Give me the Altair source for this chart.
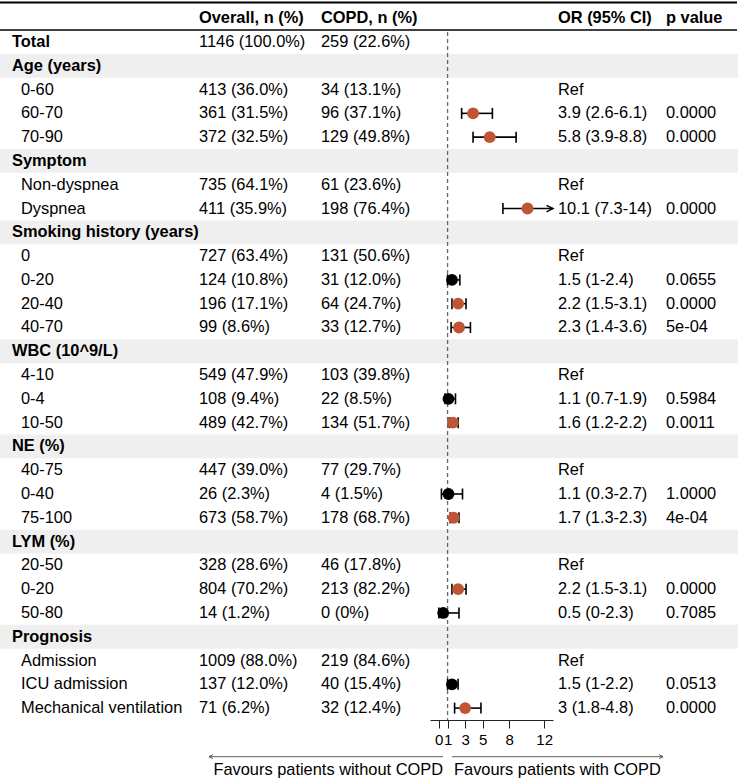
import altair as alt
import pandas as pd

# ---------------- data ----------------
labels = ["Total", "Age (years)", "0-60", "60-70", "70-90",
          "Symptom", "Non-dyspnea", "Dyspnea",
          "Smoking history (years)", "0", "0-20", "20-40", "40-70",
          "WBC (10^9/L)", "4-10", "0-4", "10-50",
          "NE (%)", "40-75", "0-40", "75-100",
          "LYM (%)", "20-50", "0-20", "50-80",
          "Prognosis", "Admission", "ICU admission", "Mechanical ventilation"]
level = [0, 0, 1, 1, 1,
         0, 1, 1,
         0, 1, 1, 1, 1,
         0, 1, 1, 1,
         0, 1, 1, 1,
         0, 1, 1, 1,
         0, 1, 1, 1]
band = [False, True, False, False, False,
        True, False, False,
        True, False, False, False, False,
        True, False, False, False,
        True, False, False, False,
        True, False, False, False,
        True, False, False, False]
overall = ["1146 (100.0%)", "", "413 (36.0%)", "361 (31.5%)", "372 (32.5%)",
           "", "735 (64.1%)", "411 (35.9%)",
           "", "727 (63.4%)", "124 (10.8%)", "196 (17.1%)", "99 (8.6%)",
           "", "549 (47.9%)", "108 (9.4%)", "489 (42.7%)",
           "", "447 (39.0%)", "26 (2.3%)", "673 (58.7%)",
           "", "328 (28.6%)", "804 (70.2%)", "14 (1.2%)",
           "", "1009 (88.0%)", "137 (12.0%)", "71 (6.2%)"]
copd = ["259 (22.6%)", "", "34 (13.1%)", "96 (37.1%)", "129 (49.8%)",
        "", "61 (23.6%)", "198 (76.4%)",
        "", "131 (50.6%)", "31 (12.0%)", "64 (24.7%)", "33 (12.7%)",
        "", "103 (39.8%)", "22 (8.5%)", "134 (51.7%)",
        "", "77 (29.7%)", "4 (1.5%)", "178 (68.7%)",
        "", "46 (17.8%)", "213 (82.2%)", "0 (0%)",
        "", "219 (84.6%)", "40 (15.4%)", "32 (12.4%)"]
or_text = ["", "", "Ref", "3.9 (2.6-6.1)", "5.8 (3.9-8.8)",
           "", "Ref", "10.1 (7.3-14)",
           "", "Ref", "1.5 (1-2.4)", "2.2 (1.5-3.1)", "2.3 (1.4-3.6)",
           "", "Ref", "1.1 (0.7-1.9)", "1.6 (1.2-2.2)",
           "", "Ref", "1.1 (0.3-2.7)", "1.7 (1.3-2.3)",
           "", "Ref", "2.2 (1.5-3.1)", "0.5 (0-2.3)",
           "", "Ref", "1.5 (1-2.2)", "3 (1.8-4.8)"]
p_text = ["", "", "", "0.0000", "0.0000",
          "", "", "0.0000",
          "", "", "0.0655", "0.0000", "5e-04",
          "", "", "0.5984", "0.0011",
          "", "", "1.0000", "4e-04",
          "", "", "0.0000", "0.7085",
          "", "", "0.0513", "0.0000"]
N = None
or_est = [N, N, N, 3.9, 5.8, N, N, 10.1, N, N, 1.5, 2.2, 2.3, N, N, 1.1, 1.6,
          N, N, 1.1, 1.7, N, N, 2.2, 0.5, N, N, 1.5, 3.0]
or_lo = [N, N, N, 2.6, 3.9, N, N, 7.3, N, N, 1.0, 1.5, 1.4, N, N, 0.7, 1.2,
         N, N, 0.3, 1.3, N, N, 1.5, 0.0, N, N, 1.0, 1.8]
or_hi = [N, N, N, 6.1, 8.8, N, N, 14.0, N, N, 2.4, 3.1, 3.6, N, N, 1.9, 2.2,
         N, N, 2.7, 2.3, N, N, 3.1, 2.3, N, N, 2.2, 4.8]

header_labels = ["Overall, n (%)", "COPD, n (%)", "OR (95% CI)", "p value"]
tick_values = [0, 1, 3, 5, 8, 12]
arrow_labels = ["Favours patients without COPD", "Favours patients with COPD"]
ref_value = [1]
x_limits = [-1, 13]

# ---------------- tables ----------------
df = pd.DataFrame({
    "row": list(range(len(labels))), "label": labels, "level": level, "band": band,
    "overall": overall, "copd": copd, "or_text": or_text, "p_text": p_text,
    "est": or_est, "lo": or_lo, "hi": or_hi,
})
fp = df.dropna(subset=["est"]).copy()
fp["p"] = pd.to_numeric(fp["p_text"])
fp["sig"] = ["sig" if v < 0.05 else "ns" for v in fp["p"]]
fp["clipped"] = fp["hi"] > x_limits[1]
fp["hi_draw"] = fp["hi"].clip(upper=x_limits[1])

caps = pd.concat([
    fp[["row", "lo"]].rename(columns={"lo": "v"}),
    fp.loc[~fp["clipped"], ["row", "hi"]].rename(columns={"hi": "v"}),
])
arrows = fp.loc[fp["clipped"], ["row", "hi_draw"]]

header_df = pd.DataFrame({"row": [-1] * 4, "text": header_labels, "col": [0, 1, 2, 3]})
one = pd.DataFrame({"k": [0]})

# ---------------- styles ----------------
FONT = "Liberation Sans"
FS = 16.4
RED = "#bf5535"
ROW_H = 23.79
TOP = 42.0
PLOT_H = 720
Y_SCALE = alt.Scale(domain=[-TOP / ROW_H, 28.5], range=[0, PLOT_H], nice=False, zero=False)
X_SCALE = alt.Scale(domain=x_limits, range=[430, 553], nice=False, zero=False)
X_AXIS = alt.Axis(values=tick_values, title=None, grid=False, domainColor="#222",
                  domainWidth=1, tickColor="#222", tickWidth=1, tickSize=8,
                  labelFont=FONT, labelFontSize=15, labelColor="black", labelPadding=4,
                  labelFlush=False, labelOverlap=False, format="d")


def Y(field="row"):
    return alt.Y(f"{field}:Q", scale=Y_SCALE, axis=None)


def X(field):
    return alt.X(f"{field}:Q", scale=X_SCALE, axis=X_AXIS)


layers = []

# grey bands
layers.append(
    alt.Chart(df[df["band"]]).transform_calculate(y0="datum.row - 0.5", y1="datum.row + 0.5")
    .mark_rect(color="#efefef")
    .encode(y=Y("y0"), y2="y1:Q", x=alt.value(0), x2=alt.value(738))
)
# header lines
layers.append(alt.Chart(one).mark_rule(color="black", strokeWidth=2)
              .encode(x=alt.value(0), x2=alt.value(737), y=alt.value(2.5)))
layers.append(alt.Chart(one).mark_rule(color="black", strokeWidth=1.6)
              .encode(x=alt.value(0), x2=alt.value(737), y=alt.value(30)))
# reference line
layers.append(alt.Chart(pd.DataFrame({"ref": ref_value}))
              .mark_rule(color="#666666", strokeDash=[4, 3], strokeWidth=1.3)
              .encode(x=X("ref"), y=alt.value(32), y2=alt.value(720)))

# header text
col_x = [199, 321, 558, 666]
for i, cx in enumerate(col_x):
    layers.append(alt.Chart(header_df[header_df["col"] == i])
                  .mark_text(align="left", baseline="middle", font=FONT, fontSize=FS,
                             fontWeight="bold", color="black")
                  .encode(x=alt.value(cx), y=Y(), text="text:N"))

# label column
layers.append(alt.Chart(df[df["level"] == 0])
              .mark_text(align="left", baseline="middle", font=FONT, fontSize=FS,
                         fontWeight="bold", color="black")
              .encode(x=alt.value(12), y=Y(), text="label:N"))
layers.append(alt.Chart(df[df["level"] == 1])
              .mark_text(align="left", baseline="middle", font=FONT, fontSize=FS, color="black")
              .encode(x=alt.value(21), y=Y(), text="label:N"))
for field, cx in [("overall", 199), ("copd", 321), ("or_text", 558), ("p_text", 666)]:
    layers.append(alt.Chart(df)
                  .mark_text(align="left", baseline="middle", font=FONT, fontSize=FS, color="black")
                  .encode(x=alt.value(cx), y=Y(), text=f"{field}:N"))

# CI lines
layers.append(alt.Chart(fp).mark_rule(color="black", strokeWidth=1.6)
              .encode(x=X("lo"), x2="hi_draw:Q", y=Y()))
# caps
layers.append(alt.Chart(caps).mark_point(shape="M0,-1L0,1", size=121, filled=False,
                                         stroke="black", strokeWidth=1.6, opacity=1)
              .encode(x=X("v"), y=Y()))
# truncated arrow heads
layers.append(alt.Chart(arrows).mark_point(shape="M-1,-0.5L0,0L-1,0.5", size=169, filled=False,
                                           stroke="black", strokeWidth=1.4, opacity=1)
              .encode(x=X("hi_draw"), y=Y()))
# points
layers.append(alt.Chart(fp).mark_circle(size=140, opacity=1)
              .encode(x=X("est"), y=Y(),
                      color=alt.Color("sig:N", scale=alt.Scale(domain=["sig", "ns"], range=[RED, "black"]),
                                      legend=None)))

# bottom arrows
arrow_df = pd.DataFrame({"text": arrow_labels, "side": ["left", "right"]})
layers.append(alt.Chart(one).mark_rule(color="#333", strokeWidth=0.8)
              .encode(x=alt.value(209), x2=alt.value(443), y=alt.value(756.7)))
layers.append(alt.Chart(one).mark_rule(color="#333", strokeWidth=0.8)
              .encode(x=alt.value(452), x2=alt.value(663), y=alt.value(756.7)))
layers.append(alt.Chart(one).mark_point(shape="M1,-0.5L0,0L1,0.5", size=64, filled=False,
                                        stroke="#333", strokeWidth=0.8, opacity=1)
              .encode(x=alt.value(209), y=alt.value(756.7)))
layers.append(alt.Chart(one).mark_point(shape="M-1,-0.5L0,0L-1,0.5", size=64, filled=False,
                                        stroke="#333", strokeWidth=0.8, opacity=1)
              .encode(x=alt.value(663), y=alt.value(756.7)))
layers.append(alt.Chart(arrow_df[arrow_df["side"] == "left"])
              .mark_text(align="right", baseline="middle", font=FONT, fontSize=FS, color="black")
              .encode(x=alt.value(443), y=alt.value(769.5), text="text:N"))
layers.append(alt.Chart(arrow_df[arrow_df["side"] == "right"])
              .mark_text(align="left", baseline="middle", font=FONT, fontSize=FS, color="black")
              .encode(x=alt.value(454), y=alt.value(769.5), text="text:N"))

chart = (alt.layer(*layers)
         .properties(width=739, height=PLOT_H,
                     padding={"left": 0, "top": 0, "right": 0, "bottom": 60},
                     autosize=alt.AutoSizeParams(type="none"),
                     background="white")
         .configure_view(stroke=None))

chart.save("out.html", embed_options={"renderer": "svg", "actions": False})
